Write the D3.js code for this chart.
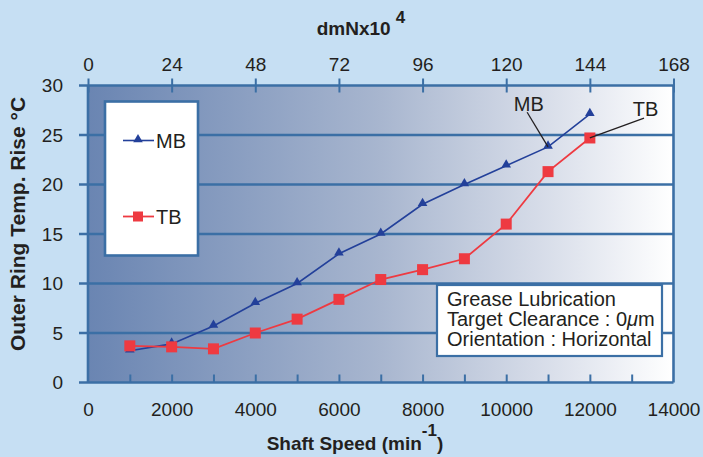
<!DOCTYPE html>
<html>
<head>
<meta charset="utf-8">
<script src="https://cdn.jsdelivr.net/npm/d3@7"></script>
<style>
  body { margin: 0; background: #c6dff3; }
  svg { display: block; font-family: "Liberation Sans", Arial, sans-serif; }
</style>
</head>
<body>
<div id="chart-area"></div>
<script>
const speed = [1000, 2000, 3000, 4000, 5000, 6000, 7000, 8000, 9000, 10000, 11000, 12000];
const mbRise = [3.2, 3.9, 5.7, 8.0, 10.0, 13.0, 15.0, 18.0, 20.0, 21.9, 23.8, 27.1];
const tbRise = [3.7, 3.6, 3.4, 5.0, 6.4, 8.4, 10.4, 11.4, 12.5, 16.0, 21.3, 24.7];

const bottomTicks = [0, 2000, 4000, 6000, 8000, 10000, 12000, 14000];
const minorTicks = [1000, 2000, 3000, 4000, 5000, 6000, 7000, 8000, 9000, 10000, 11000, 12000, 13000];
const topTicks = [0, 24, 48, 72, 96, 120, 144, 168];
const yTicks = [0, 5, 10, 15, 20, 25, 30];
const noteLines = ["Grease Lubrication", "Target Clearance : 0\u03bcm", "Orientation : Horizontal"];

const margin = { top: 85.5, right: 29.5, bottom: 74.5, left: 88 };
const width = 703 - margin.left - margin.right;
const height = 457 - margin.top - margin.bottom;

const blue = "#3b6fa5";
const ink = "#231f20";
const mbColor = "#23409a";
const tbColor = "#ee3a41";

const svg = d3.select("#chart-area")
  .append("svg")
  .attr("width", 703)
  .attr("height", 457);

svg.append("rect")
  .attr("width", 703)
  .attr("height", 457)
  .attr("fill", "#c6dff3");

const grad = svg.append("defs").append("linearGradient")
  .attr("id", "plotbg")
  .attr("x1", "0%").attr("x2", "100%")
  .attr("y1", "0%").attr("y2", "0%");
grad.append("stop").attr("offset", "0%").attr("stop-color", "#6a85b2");
grad.append("stop").attr("offset", "50%").attr("stop-color", "#a8b6cf");
grad.append("stop").attr("offset", "80%").attr("stop-color", "#dbe0eb");
grad.append("stop").attr("offset", "100%").attr("stop-color", "#ffffff");

const g = svg.append("g")
  .attr("transform", `translate(${margin.left}, ${margin.top})`);

const x = d3.scaleLinear().domain([0, 14000]).range([0, width]);
const xTop = d3.scaleLinear().domain([0, 168]).range([0, width]);
const y = d3.scaleLinear().domain([0, 30]).range([height, 0]);

g.append("rect")
  .attr("width", width)
  .attr("height", height)
  .attr("fill", "url(#plotbg)");

// horizontal grid + outward left ticks
g.selectAll(".grid")
  .data(yTicks)
  .enter()
  .append("line")
  .attr("x1", -9)
  .attr("x2", width)
  .attr("y1", d => y(d))
  .attr("y2", d => y(d))
  .attr("stroke", blue)
  .attr("stroke-width", 2.6);

// side frame
g.append("line")
  .attr("x1", 0).attr("x2", 0)
  .attr("y1", 0).attr("y2", height)
  .attr("stroke", blue).attr("stroke-width", 2.6);
g.append("line")
  .attr("x1", width).attr("x2", width)
  .attr("y1", 0).attr("y2", height)
  .attr("stroke", blue).attr("stroke-width", 2.6);

// y labels
const yAxis = d3.axisLeft(y).tickValues(yTicks).tickSize(0).tickPadding(25);
const yg = g.append("g").call(yAxis);
yg.select(".domain").remove();

// bottom minor ticks (inward)
const xMinor = g.append("g")
  .attr("transform", `translate(0, ${height})`)
  .call(d3.axisBottom(x).tickValues(minorTicks).tickSize(-8).tickFormat(""));
xMinor.select(".domain").remove();
xMinor.selectAll("line").attr("stroke", blue).attr("stroke-width", 2);

// bottom labels
const xg = g.append("g")
  .attr("transform", `translate(0, ${height})`)
  .call(d3.axisBottom(x).tickValues(bottomTicks).tickSize(0).tickPadding(20).tickFormat(d3.format("d")));
xg.select(".domain").remove();

// top axis, ticks crossing the frame
const tg = g.append("g")
  .call(d3.axisTop(xTop).tickValues(topTicks).tickSize(7).tickPadding(8));
tg.select(".domain").remove();
tg.selectAll("line").attr("y1", 7).attr("stroke", blue).attr("stroke-width", 2);

svg.selectAll(".tick text")
  .attr("font-size", "19px")
  .attr("font-family", "Liberation Sans, Arial, sans-serif")
  .attr("fill", ink);

// series
const line = d3.line()
  .x(d => x(d[0]))
  .y(d => y(d[1]));

const mbData = speed.map((s, i) => [s, mbRise[i]]);
const tbData = speed.map((s, i) => [s, tbRise[i]]);

g.append("path")
  .datum(mbData)
  .attr("d", line)
  .attr("fill", "none")
  .attr("stroke", mbColor)
  .attr("stroke-width", 1.6);

g.append("path")
  .datum(tbData)
  .attr("d", line)
  .attr("fill", "none")
  .attr("stroke", tbColor)
  .attr("stroke-width", 1.8);

const tri = d3.symbol(d3.symbolTriangle).size(40);

g.selectAll(".mb")
  .data(mbData)
  .enter()
  .append("path")
  .attr("d", tri)
  .attr("transform", d => `translate(${x(d[0])}, ${y(d[1]) - 1})`)
  .attr("fill", mbColor);

g.selectAll(".tb")
  .data(tbData)
  .enter()
  .append("rect")
  .attr("x", d => x(d[0]) - 5.5)
  .attr("y", d => y(d[1]) - 5.5)
  .attr("width", 11)
  .attr("height", 11)
  .attr("fill", tbColor);

// callouts
const callouts = [
  { label: "MB", tx: 10540, ty: 27.45, lx: 10500, ly: 27.3, px: 11000, py: 23.8 },
  { label: "TB", tx: 13330, ty: 26.9, lx: 13295, ly: 26.7, px: 12000, py: 24.7 }
];
callouts.forEach(c => {
  g.append("line")
    .attr("x1", x(c.lx)).attr("y1", y(c.ly))
    .attr("x2", x(c.px)).attr("y2", y(c.py))
    .attr("stroke", ink).attr("stroke-width", 1.3);
  g.append("text")
    .attr("x", x(c.tx))
    .attr("y", y(c.ty))
    .attr("text-anchor", "middle")
    .attr("font-size", "20px")
    .attr("fill", ink)
    .text(c.label);
});

// legend
const legend = svg.append("g").attr("transform", "translate(105, 101.5)");
legend.append("rect")
  .attr("width", 93)
  .attr("height", 154)
  .attr("fill", "#fff")
  .attr("stroke", blue)
  .attr("stroke-width", 2.6);

legend.append("line")
  .attr("x1", 18).attr("x2", 49).attr("y1", 39).attr("y2", 39)
  .attr("stroke", mbColor).attr("stroke-width", 1.6);
legend.append("path")
  .attr("d", tri)
  .attr("transform", "translate(33, 38)")
  .attr("fill", mbColor);
legend.append("text")
  .attr("x", 51).attr("y", 46)
  .attr("font-size", "20px").attr("fill", ink)
  .text("MB");

legend.append("line")
  .attr("x1", 18).attr("x2", 49).attr("y1", 115).attr("y2", 115)
  .attr("stroke", tbColor).attr("stroke-width", 1.8);
legend.append("rect")
  .attr("x", 28).attr("y", 110).attr("width", 10).attr("height", 10)
  .attr("fill", tbColor);
legend.append("text")
  .attr("x", 51).attr("y", 122)
  .attr("font-size", "20px").attr("fill", ink)
  .text("TB");

// condition note
const note = svg.append("g").attr("transform", "translate(437, 285)");
note.append("rect")
  .attr("width", 225)
  .attr("height", 71)
  .attr("fill", "#fff")
  .attr("stroke", blue)
  .attr("stroke-width", 2.2);
note.selectAll("text")
  .data(noteLines)
  .enter()
  .append("text")
  .attr("x", 10)
  .attr("y", (d, i) => 20.7 + i * 20)
  .attr("font-size", "20px")
  .attr("fill", ink)
  .each(function(d) {
    // micro sign is set in italics in the original
    const parts = d.split("\u03bc");
    const t = d3.select(this);
    parts.forEach((p, i) => {
      if (i > 0) t.append("tspan").attr("font-style", "italic").text("\u03bc");
      t.append("tspan").text(p);
    });
  });

// axis titles
svg.append("text")
  .attr("transform", "translate(25, 224) rotate(-90)")
  .attr("text-anchor", "middle")
  .attr("font-size", "21px")
  .attr("font-weight", "bold")
  .attr("fill", ink)
  .text("Outer Ring Temp. Rise \u00b0C");

const xt = svg.append("text")
  .attr("x", 355)
  .attr("y", 450)
  .attr("text-anchor", "middle")
  .attr("font-size", "19px")
  .attr("font-weight", "bold")
  .attr("fill", ink);
xt.append("tspan").text("Shaft Speed (min");
xt.append("tspan").attr("dy", -14).attr("font-size", "17px").text("-1");
xt.append("tspan").attr("dy", 14).text(")");

const tt = svg.append("text")
  .attr("x", 361)
  .attr("y", 35)
  .attr("text-anchor", "middle")
  .attr("font-size", "19px")
  .attr("font-weight", "bold")
  .attr("fill", ink);
tt.append("tspan").text("dmNx10 ");
tt.append("tspan").attr("dy", -12).attr("font-size", "17px").text("4");
</script>
</body>
</html>
